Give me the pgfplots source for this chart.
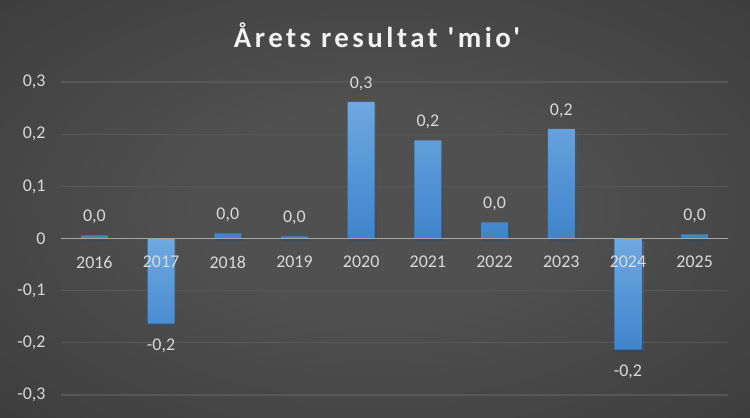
\documentclass[border=0pt]{standalone}
\usepackage{pgfplots}
\pgfplotsset{compat=1.18}
\usetikzlibrary{shadows}
\usepackage{fontspec}
\setmainfont{Carlito}
\newfontfamily\titlefont[LetterSpace=12]{Carlito}
\definecolor{txt}{HTML}{D9D9D9}
\definecolor{titlec}{HTML}{F2F2F2}
\definecolor{gridc}{HTML}{575757}
\definecolor{zeroc}{HTML}{A6A6A6}
\definecolor{bartop}{HTML}{6FA8E0}
\definecolor{barbot}{HTML}{3F84CC}
\definecolor{bgc}{HTML}{505050}
\definecolor{bgm}{HTML}{3A3A3A}
\definecolor{bgo}{HTML}{1F1F1F}
\pgfdeclareradialshading{bg}{\pgfpoint{0bp}{0bp}}{color(0bp)=(bgc); color(12bp)=(bgc); color(40bp)=(bgm); color(71bp)=(bgo)}
\pgfplotsset{
  frame/.style={
    at={(61bp,22bp)}, anchor=south west, scale only axis,
    width=667bp, height=313bp,
    xmin=-0.5, xmax=9.5, ymin=-0.3, ymax=0.3,
    axis x line*=middle, axis y line*=left,
    hide obscured x ticks=false, hide obscured y ticks=false,
    y axis line style={draw=none},
    xtick={0,1,2,3,4,5,6,7,8,9},
    ytick={-0.3,-0.2,-0.1,0,0.1,0.2,0.3},
    major tick length=0pt,
    tick label style={font=\fontsize{18}{20}\selectfont, text=txt},
    xticklabel style={yshift=-14bp},
    yticklabel style={xshift=-12bp},
  },
  barsty/.style={draw=none, top color=bartop, bottom color=barbot, bar shift=0pt,
    drop shadow={opacity=0.35, shadow xshift=2bp, shadow yshift=-2bp, fill=black}},
}
\begin{document}
\begin{tikzpicture}[x=1bp,y=1bp]
\path[use as bounding box] (0,0) rectangle (750,417);
\shade[shading=bg] (0,0) rectangle (750,417);
\node[font=\titlefont\fontsize{29}{31}\selectfont\bfseries, text=titlec, anchor=base] at (377,370) {Årets resultat 'mio'};
\begin{axis}[
  frame,
  x axis line style={draw=none},
  xticklabels={}, yticklabels={},
  ymajorgrids, grid style={gridc, line width=1.2bp},
  ybar, bar width=27bp,
  nodes near coords, point meta=explicit symbolic,
  every node near coord/.append style={font=\fontsize{18}{20}\selectfont, text=txt},
]
\addplot[barsty,
  every node near coord/.append style={anchor=south, yshift=8bp}]
  table[x=x, y=y, meta=lab] {
x y lab
0 0.006 0,0
2 0.010 0,0
3 0.004 0,0
4 0.262 0,3
5 0.188 0,2
6 0.031 0,0
7 0.210 0,2
9 0.008 0,0
};
\addplot[barsty,
  every node near coord/.append style={anchor=north, yshift=-12bp}]
  table[x=x, y=y, meta=lab] {
x y lab
1 -0.163 -0,2
8 -0.213 -0,2
};
\end{axis}
\begin{axis}[
  frame,
  x axis line style={draw=zeroc, line width=1.5bp},
  xticklabels={2016,2017,2018,2019,2020,2021,2022,2023,2024,2025},
  yticklabels={{-0,3},{-0,2},{-0,1},0,{0,1},{0,2},{0,3}},
]
\end{axis}
\end{tikzpicture}
\end{document}
